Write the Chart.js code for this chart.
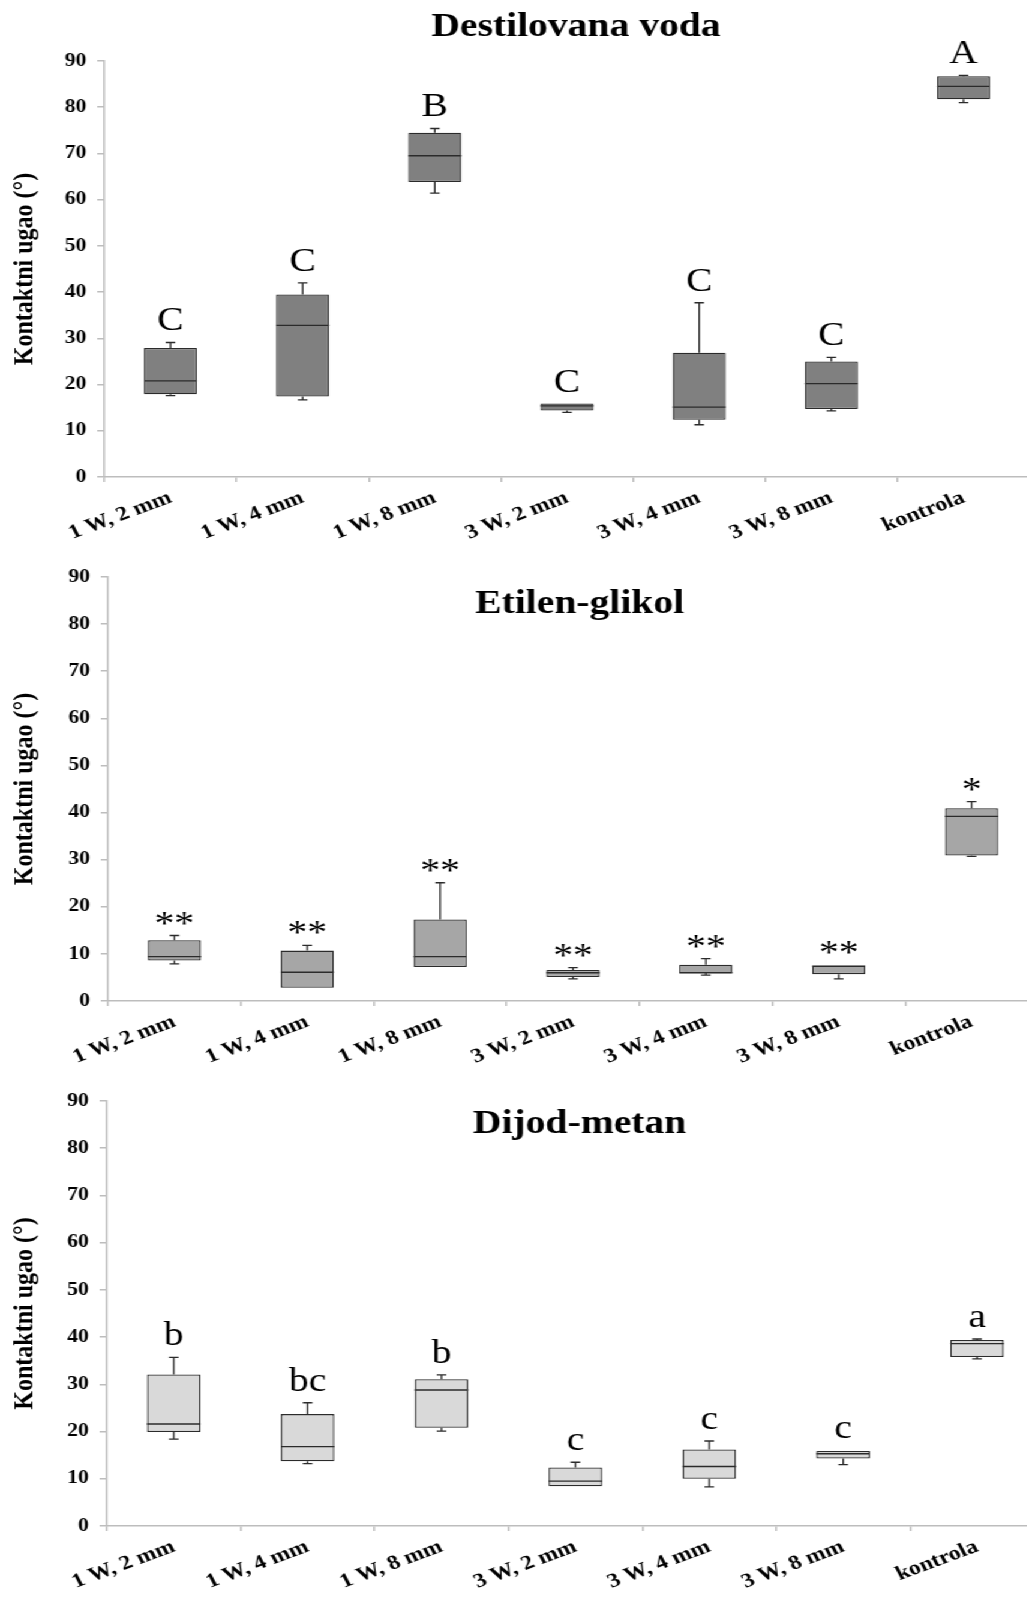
<!DOCTYPE html>
<html>
<head>
<meta charset="utf-8">
<script src="https://cdn.jsdelivr.net/npm/chart.js@4.4.1/dist/chart.umd.min.js"></script>
<style>
html, body { margin:0; padding:0; background:#fff; overflow:hidden; width:1027px; height:1601px; }
#stage { position:absolute; left:0; top:0; width:880px; height:1601px; transform:scaleX(1.2); transform-origin:0 0; }
.panel { position:absolute; left:0; }
</style>
</head>
<body>
<div id="stage">
  <div class="panel" id="p1" style="top:0px;width:858px;height:557px"><canvas id="c1"></canvas></div>
  <div class="panel" id="p2" style="top:555px;width:865px;height:526px"><canvas id="c2"></canvas></div>
  <div class="panel" id="p3" style="top:1060px;width:870px;height:541px"><canvas id="c3"></canvas></div>
</div>
<script>
// ---------------- DATA ----------------
const categories = ['1 W, 2 mm', '1 W, 4 mm', '1 W, 8 mm', '3 W, 2 mm', '3 W, 4 mm', '3 W, 8 mm', 'kontrola'];
const yTickValues = [0, 10, 20, 30, 40, 50, 60, 70, 80, 90];
const yAxisTitle = 'Kontaktni ugao (°)';

// Destilovana voda
const vodaTitle = 'Destilovana voda';
const vodaMin    = [17.6, 16.7, 61.4, 14.0, 11.3, 14.3, 81.0];
const vodaQ1     = [17.9, 17.4, 63.8, 14.4, 12.4, 14.7, 81.7];
const vodaMedian = [20.8, 32.8, 69.5, 15.4, 15.1, 20.2, 84.5];
const vodaQ3     = [27.9, 39.5, 74.5, 15.9, 26.9, 25.0, 86.7];
const vodaMax    = [29.1, 42.0, 75.4, 15.9, 37.7, 25.9, 86.9];
const vodaLetters = ['C', 'C', 'B', 'C', 'C', 'C', 'A'];

// Etilen-glikol
const glikolTitle = 'Etilen-glikol';
const glikolMin    = [7.9, 2.8, 7.2, 4.7, 5.5, 4.7, 30.7];
const glikolQ1     = [8.6, 2.8, 7.2, 5.1, 5.9, 5.7, 30.9];
const glikolMedian = [9.4, 6.1, 9.4, 6.0, 6.0, 7.4, 39.2];
const glikolQ3     = [12.9, 10.7, 17.3, 6.6, 7.7, 7.5, 40.9];
const glikolMax    = [13.9, 11.8, 25.1, 7.1, 9.0, 7.6, 42.3];
const glikolLetters = ['**', '**', '**', '**', '**', '**', '*'];

// Dijod-metan
const metanTitle = 'Dijod-metan';
const metanMin    = [18.4, 13.2, 20.1, 8.4, 8.3, 13.0, 35.4];
const metanQ1     = [19.9, 13.7, 20.8, 8.4, 10.0, 14.3, 35.8];
const metanMedian = [21.6, 16.8, 28.8, 9.5, 12.6, 15.3, 38.6];
const metanQ3     = [32.1, 23.7, 31.1, 12.4, 16.2, 15.9, 39.4];
const metanMax    = [35.7, 26.1, 32.0, 13.5, 18.0, 16.0, 39.6];
const metanLetters = ['b', 'bc', 'b', 'c', 'c', 'c', 'a'];

// ---------------- RENDER ----------------
const SERIF = '"Liberation Serif", "Times New Roman", serif';
const LINE = '#2b2b2b';
const AXIS = '#bdbdbd';

function makeBoxPlugin(stats, style) {
  return {
    id: 'boxWhisker',
    afterDatasetsDraw(chart) {
      const ctx = chart.ctx;
      const y = chart.scales.y;
      const meta = chart.getDatasetMeta(0);
      ctx.save();
      ctx.strokeStyle = LINE;
      ctx.lineWidth = 1.3;
      ctx.lineCap = 'butt';
      meta.data.forEach((bar, i) => {
        const x = bar.x;
        const half = bar.width / 2;
        const pMin = y.getPixelForValue(stats.min[i]);
        const pQ1 = y.getPixelForValue(stats.q1[i]);
        const pMed = y.getPixelForValue(stats.median[i]);
        const pQ3 = y.getPixelForValue(stats.q3[i]);
        const pMax = y.getPixelForValue(stats.max[i]);
        const cap = 4;
        ctx.beginPath();
        if (pQ3 - pMax > 0.5) {
          ctx.moveTo(x, pQ3); ctx.lineTo(x, pMax);
          ctx.moveTo(x - cap, pMax); ctx.lineTo(x + cap, pMax);
        }
        if (pMin - pQ1 > 0.5) {
          ctx.moveTo(x, pQ1); ctx.lineTo(x, pMin);
          ctx.moveTo(x - cap, pMin); ctx.lineTo(x + cap, pMin);
        }
        ctx.moveTo(x - half, pMed); ctx.lineTo(x + half, pMed);
        ctx.stroke();
        // significance letters
        ctx.fillStyle = '#000';
        ctx.font = '33px ' + SERIF;
        ctx.textAlign = 'center';
        ctx.textBaseline = 'alphabetic';
        ctx.fillText(stats.letters[i], x, pMax - style.letterGap);
      });
      // panel title
      ctx.font = 'bold 33px ' + SERIF;
      ctx.textAlign = 'center';
      ctx.textBaseline = 'middle';
      ctx.fillStyle = '#000';
      ctx.fillText(stats.title, style.titleX, style.titleY);
      ctx.restore();
    }
  };
}

function makePanel(canvasId, stats, style) {
  const fontTick = { family: SERIF, weight: 'bold', size: 18 };
  const fontCat = { family: SERIF, weight: 'bold', size: 20 };
  return new Chart(document.getElementById(canvasId), {
    type: 'bar',
    data: {
      labels: categories,
      datasets: [{
        data: stats.q1.map((v, i) => [v, stats.q3[i]]),
        backgroundColor: style.fill,
        borderColor: LINE,
        borderWidth: 1.3,
        borderSkipped: false,
        barPercentage: 0.4,
        categoryPercentage: 1.0
      }]
    },
    options: {
      responsive: true,
      maintainAspectRatio: false,
      animation: false,
      devicePixelRatio: 1,
      layout: { padding: { top: style.padTop, right: 0, bottom: 0, left: 0 } },
      plugins: { legend: { display: false }, tooltip: { enabled: false }, title: { display: false } },
      scales: {
        x: {
          offset: true,
          grid: { offset: true, drawOnChartArea: false, drawTicks: true, tickLength: 5, color: AXIS, lineWidth: 1.5 },
          border: { color: AXIS, width: 1.5 },
          ticks: { autoSkip: false, maxRotation: 24, minRotation: 24, padding: 4, color: '#000', font: fontCat },
          afterFit: s => { s.height = style.xHeight; }
        },
        y: {
          min: 0, max: 90,
          afterBuildTicks: s => { s.ticks = yTickValues.map(v => ({ value: v })); },
          grid: { drawOnChartArea: false, drawTicks: true, tickLength: 6, color: AXIS, lineWidth: 1.5 },
          border: { color: AXIS, width: 1.5 },
          ticks: { padding: 9, color: '#000', font: fontTick },
          title: { display: true, text: yAxisTitle, color: '#000', font: { family: SERIF, weight: 'bold', size: 24 }, padding: { top: 6, bottom: 0 } },
          afterFit: s => { s.width = style.yWidth; }
        }
      }
    },
    plugins: [makeBoxPlugin(stats, style)]
  });
}

makePanel('c1',
  { title: vodaTitle, min: vodaMin, q1: vodaQ1, median: vodaMedian, q3: vodaQ3, max: vodaMax, letters: vodaLetters },
  { fill: '#808080', padTop: 61, xHeight: 80, yWidth: 87, titleX: 480, titleY: 27, letterGap: 12 });

makePanel('c2',
  { title: glikolTitle, min: glikolMin, q1: glikolQ1, median: glikolMedian, q3: glikolQ3, max: glikolMax, letters: glikolLetters },
  { fill: '#a6a6a6', padTop: 22, xHeight: 80, yWidth: 90, titleX: 483, titleY: 49, letterGap: 2 });

makePanel('c3',
  { title: metanTitle, min: metanMin, q1: metanQ1, median: metanMedian, q3: metanQ3, max: metanMax, letters: metanLetters },
  { fill: '#d9d9d9', padTop: 41, xHeight: 75, yWidth: 89, titleX: 483, titleY: 64, letterGap: 12 });
</script>
</body>
</html>
